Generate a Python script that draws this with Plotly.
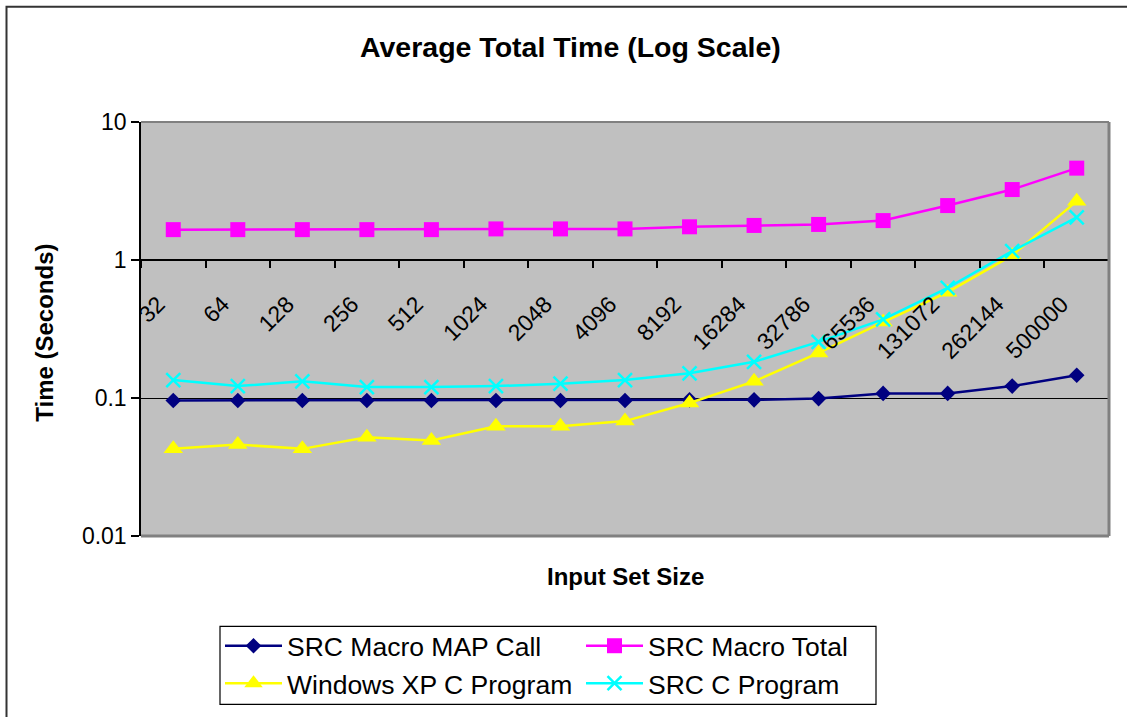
import plotly.graph_objects as go

categories = ["32", "64", "128", "256", "512", "1024", "2048", "4096", "8192",
              "16284", "32786", "65536", "131072", "262144", "500000"]

src_macro_map_call = [0.096, 0.096, 0.096, 0.096, 0.096, 0.096, 0.096, 0.096,
                      0.097, 0.097, 0.099, 0.108, 0.108, 0.122, 0.146]
src_macro_total = [1.66, 1.66, 1.66, 1.66, 1.66, 1.68, 1.68, 1.68,
                   1.74, 1.78, 1.81, 1.93, 2.48, 3.24, 4.63]
windows_xp_c = [0.0428, 0.046, 0.0428, 0.052, 0.0492, 0.0625, 0.0625, 0.068,
                0.092, 0.132, 0.212, 0.355, 0.585, 1.08, 2.67]
src_c_program = [0.135, 0.122, 0.132, 0.12, 0.12, 0.122, 0.127, 0.135,
                 0.151, 0.183, 0.255, 0.371, 0.629, 1.16, 2.04]

y_tickvals = [0.01, 0.1, 1, 10]
y_ticktext = ["0.01", "0.1", "1", "10"]

FONT = "Arial, 'Liberation Sans', sans-serif"

W, H = 1127, 717
# target page-pixel plot area: x 141..1109, y 122..536.5
L = 141
T = 122
R = W - 1109
B = H - 536.5
pw = W - L - R
ph = H - T - B


def px_x(x):
    return (x - L) / pw


def px_y(y):
    return (H - B - y) / ph


fig = go.Figure()
fig.add_trace(go.Scatter(x=categories, y=src_macro_map_call, name="SRC Macro MAP Call",
                         mode="lines+markers",
                         line=dict(color="#000080", width=2.5),
                         marker=dict(symbol="diamond", size=12, color="#000080")))
fig.add_trace(go.Scatter(x=categories, y=src_macro_total, name="SRC Macro Total",
                         mode="lines+markers",
                         line=dict(color="#FF00FF", width=2.5),
                         marker=dict(symbol="square", size=15, color="#FF00FF")))
fig.add_trace(go.Scatter(x=categories, y=windows_xp_c, name="Windows XP C Program",
                         mode="lines+markers",
                         line=dict(color="#FFFF00", width=2.5),
                         marker=dict(symbol="triangle-up", size=17, color="#FFFF00")))
fig.add_trace(go.Scatter(x=categories, y=src_c_program, name="SRC C Program",
                         mode="lines+markers",
                         line=dict(color="#00FFFF", width=2.5),
                         marker=dict(symbol="x-thin-open", size=14, color="#00FFFF",
                                     line=dict(color="#00FFFF", width=2.5))))

fig.update_layout(
    width=W, height=H,
    margin=dict(l=L, r=R, t=T, b=B, pad=0, autoexpand=False),
    paper_bgcolor="white",
    plot_bgcolor="#C0C0C0",
    font=dict(family=FONT, color="black", size=23),
    showlegend=True,
    legend=dict(
        orientation="h",
        xref="container", yref="container",
        x=220 / W, y=1 - 622 / H,
        xanchor="left", yanchor="top",
        bgcolor="rgba(0,0,0,0)", borderwidth=0,
        font=dict(family=FONT, size=26.5, color="black"),
        itemwidth=57,
        entrywidth=289, entrywidthmode="pixels",
        traceorder="normal",
    ),
    xaxis=dict(
        type="category",
        categoryorder="array", categoryarray=categories,
        range=[-0.5, len(categories) - 0.5],
        anchor="free", position=2 / 3,
        showline=True, linecolor="black", linewidth=1.5,
        ticks="outside", ticklen=7, tickcolor="black", tickwidth=1.5,
        tickson="boundaries",
        tickangle=-45,
        ticklabelstandoff=21,
        ticklabelshift=-15,
        tickfont=dict(family=FONT, size=23, color="black"),
        showgrid=False, zeroline=False,
    ),
    yaxis=dict(
        type="log",
        range=[-2, 1],
        tickvals=y_tickvals, ticktext=y_ticktext,
        showline=True, linecolor="black", linewidth=1.5,
        ticks="outside", ticklen=8, tickcolor="black", tickwidth=1.5,
        showgrid=True, gridcolor="black", gridwidth=1,
        zeroline=False,
        tickfont=dict(family=FONT, size=23, color="black"),
    ),
)

# plot-area border (top, right, bottom)
fig.add_shape(type="line", xref="paper", yref="paper", x0=0, x1=1, y0=1, y1=1,
              line=dict(color="#808080", width=2))
fig.add_shape(type="line", xref="paper", yref="paper", x0=1, x1=1, y0=0, y1=1,
              line=dict(color="#808080", width=3))
fig.add_shape(type="line", xref="paper", yref="paper", x0=0, x1=1, y0=0, y1=0,
              line=dict(color="#808080", width=3))

# outer chart frame
fig.add_shape(type="rect", xref="paper", yref="paper",
              x0=px_x(6.5), x1=px_x(W + 30),
              y0=px_y(6.5), y1=px_y(H + 30),
              line=dict(color="#333333", width=2), fillcolor="rgba(0,0,0,0)")

# legend box
fig.add_shape(type="rect", xref="paper", yref="paper",
              x0=px_x(220), x1=px_x(876),
              y0=px_y(627), y1=px_y(705),
              line=dict(color="black", width=1.2), fillcolor="white")

# title
fig.add_annotation(text="<b>Average Total Time (Log Scale)</b>",
                   xref="paper", yref="paper",
                   x=px_x(570), y=px_y(47),
                   xanchor="center", yanchor="middle", showarrow=False,
                   font=dict(family=FONT, size=28.5, color="black"))
# axis titles
fig.add_annotation(text="<b>Time (Seconds)</b>",
                   xref="paper", yref="paper",
                   x=px_x(45), y=px_y(333),
                   xanchor="center", yanchor="middle", showarrow=False,
                   textangle=-90,
                   font=dict(family=FONT, size=24, color="black"))
fig.add_annotation(text="<b>Input Set Size</b>",
                   xref="paper", yref="paper",
                   x=px_x(625), y=px_y(577),
                   xanchor="center", yanchor="middle", showarrow=False,
                   font=dict(family=FONT, size=24, color="black"))

fig.write_html("out.html",
               config={"displayModeBar": False},
               post_script="document.body.style.margin='0';")
